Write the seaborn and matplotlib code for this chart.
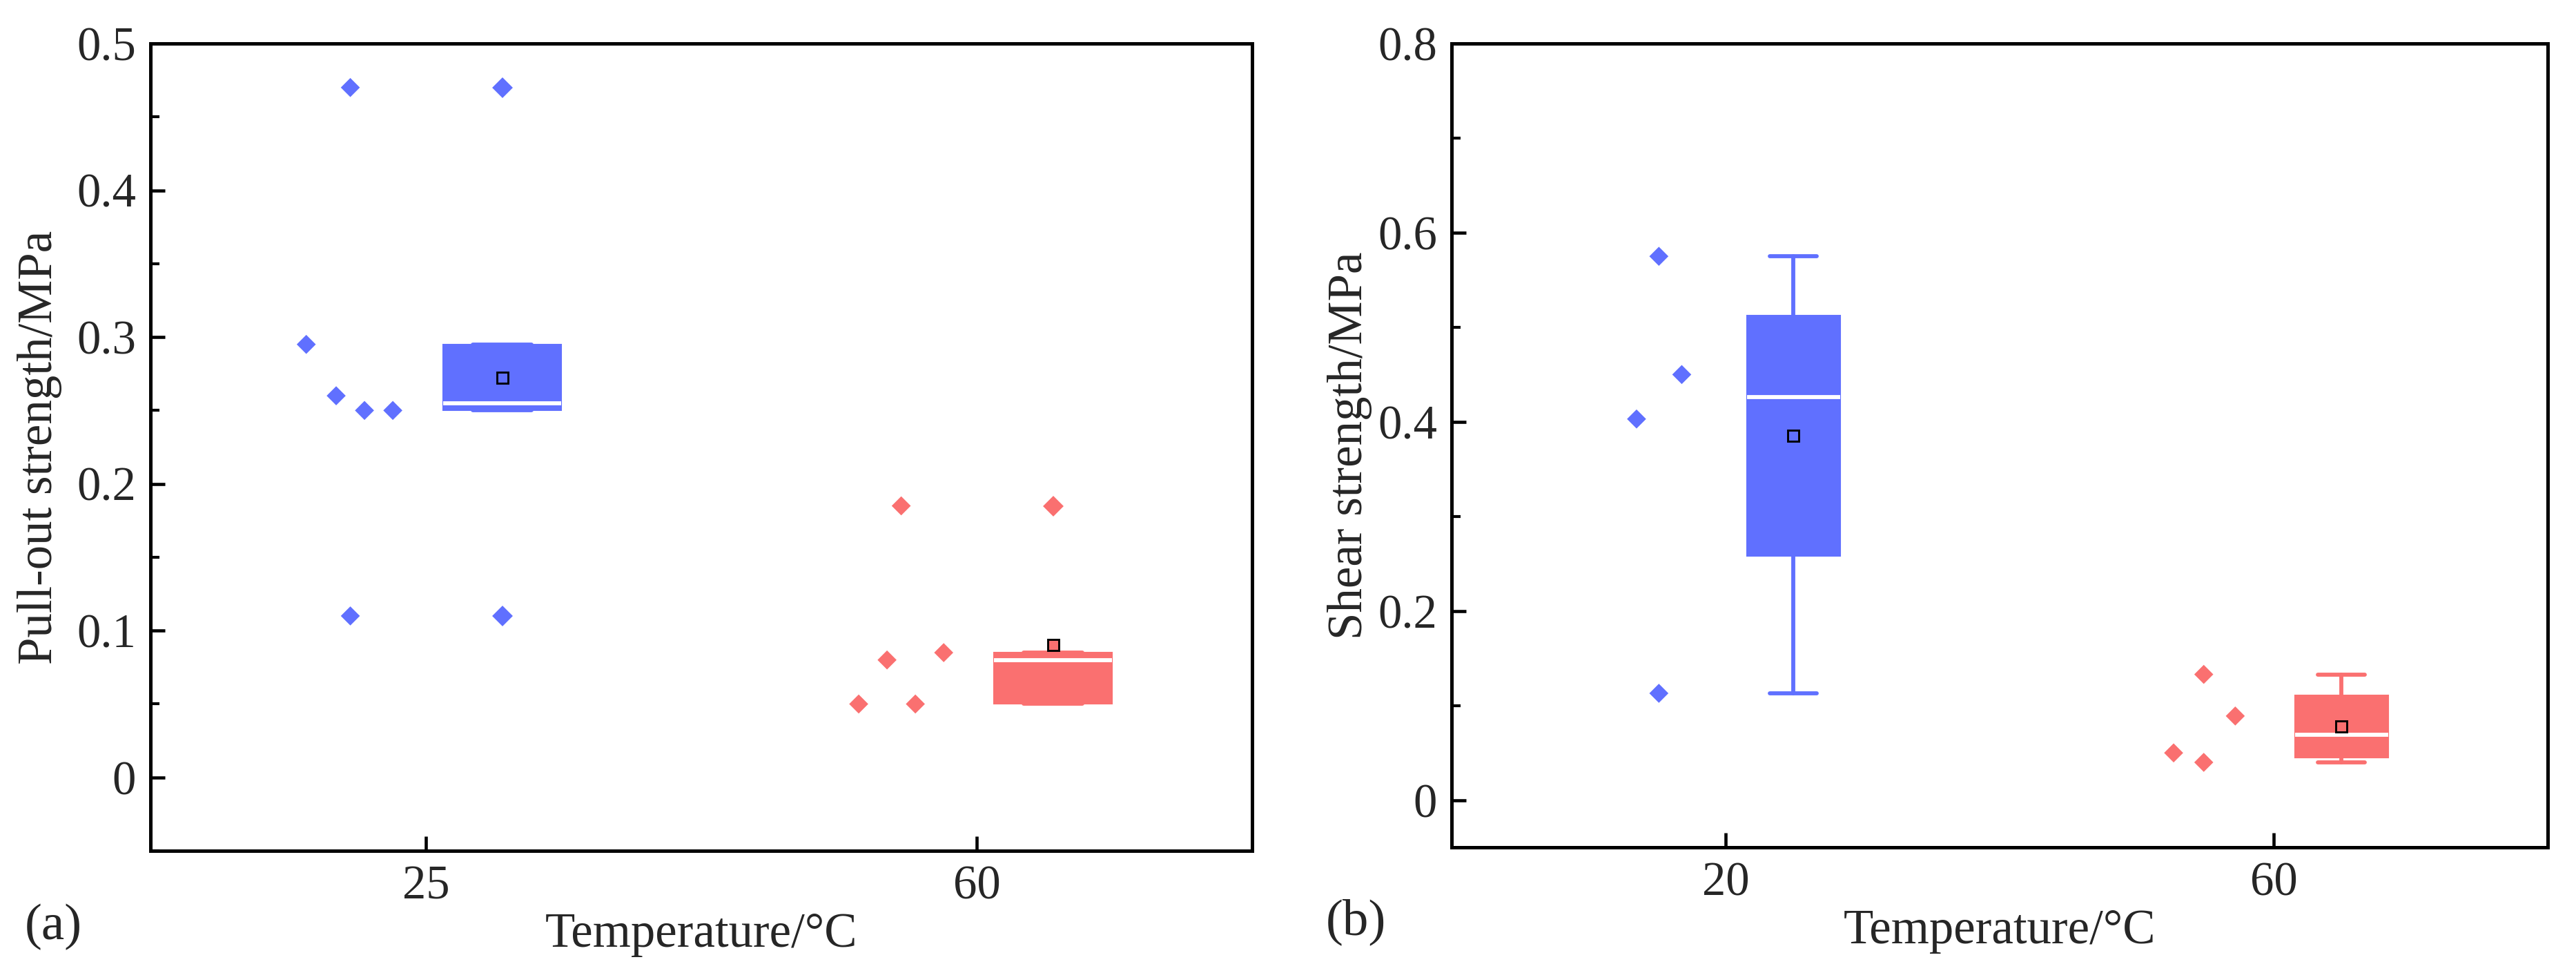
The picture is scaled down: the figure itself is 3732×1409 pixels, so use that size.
import numpy as np
import matplotlib
matplotlib.use("Agg")
import matplotlib.pyplot as plt
import seaborn as sns
import pandas as pd
from matplotlib.ticker import MultipleLocator, FuncFormatter

# ---------------- data ----------------
# Panel (a): pull-out strength (MPa)
pull_temps = [25, 60]
pull_25 = [0.47, 0.295, 0.26, 0.25, 0.25, 0.11]
pull_60 = [0.185, 0.08, 0.085, 0.05, 0.05]

# Panel (b): shear strength (MPa)
shear_temps = [20, 60]
shear_20 = [0.575, 0.45, 0.403, 0.113]
shear_60 = [0.133, 0.089, 0.05, 0.04]

# ---------------- layout / style ----------------
colors = ["#6070FF", "#FA7070"]
# horizontal jitter of the raw-data points (temperature units, relative to the tick)
pull_offsets = [[-4.8, -7.6, -5.7, -3.9, -2.1, -4.8], [-4.8, -5.7, -2.1, -7.5, -3.9]]
shear_offsets = [[-4.87, -3.2, -6.5, -4.87], [-5.1, -2.8, -7.3, -5.1]]

sns.set_theme(style="white")
plt.rcParams["font.family"] = ["Liberation Serif", "DejaVu Serif"]
plt.rcParams["mathtext.fontset"] = "stix"


def tukey_stats(values):
    v = np.sort(np.asarray(values, float))
    n = len(v)
    half = (n + 1) // 2
    q1 = np.median(v[:half])
    q3 = np.median(v[n - half:])
    iqr = q3 - q1
    lo, hi = q1 - 1.5 * iqr, q3 + 1.5 * iqr
    inside = v[(v >= lo) & (v <= hi)]
    return dict(med=np.median(v), q1=q1, q3=q3,
                whislo=inside.min(), whishi=inside.max(),
                fliers=v[(v < lo) | (v > hi)], mean=v.mean())


def draw_panel(ax, temps, groups, offsets, box_off, box_w, xlim, ylim,
               ymajor, yminor, ylabel, ylabelpad):
    # raw data points (seaborn)
    rows = []
    for t, vals, offs in zip(temps, groups, offsets):
        for v, o in zip(vals, offs):
            rows.append({"x": t + o, "y": v, "T": str(t)})
    df = pd.DataFrame(rows)
    sns.scatterplot(data=df, x="x", y="y", hue="T",
                    palette=dict(zip([str(t) for t in temps], colors)),
                    marker="D", s=22, linewidth=0, legend=False, ax=ax, zorder=3)

    # box plots with Tukey hinges
    for t, vals, c in zip(temps, groups, colors):
        st = tukey_stats(vals)
        ax.bxp([st], positions=[t + box_off], widths=[box_w], capwidths=[box_w / 2],
               patch_artist=True, showmeans=True, showfliers=True, manage_ticks=False,
               boxprops=dict(facecolor=c, edgecolor=c, linewidth=0.5),
               medianprops=dict(color="white", linewidth=1.4),
               whiskerprops=dict(color=c, linewidth=1.4),
               capprops=dict(color=c, linewidth=1.4),
               flierprops=dict(marker="D", markerfacecolor=c, markeredgecolor=c,
                               markersize=4),
               meanprops=dict(marker="s", markerfacecolor=c, markeredgecolor="black",
                              markersize=3.8, markeredgewidth=0.7))

    ax.set_xlim(*xlim)
    ax.set_ylim(*ylim)
    ax.set_xticks(temps)
    ax.set_xticklabels([str(t) for t in temps])
    ax.yaxis.set_major_locator(MultipleLocator(ymajor))
    ax.yaxis.set_minor_locator(MultipleLocator(yminor))
    ax.yaxis.set_major_formatter(FuncFormatter(lambda v, p: "0" if abs(v) < 1e-9 else f"{v:.1f}"))
    ax.tick_params(axis="both", which="major", direction="in", length=5, width=1.1,
                   labelsize=16.5, color="black", pad=5)
    ax.tick_params(axis="y", which="minor", direction="in", length=3, width=1.0, color="black")
    ax.tick_params(left=True, bottom=True, top=False, right=False)
    ax.tick_params(axis="y", which="minor", left=True)
    for s in ax.spines.values():
        s.set_color("black")
        s.set_linewidth(1.2)
    ax.set_xlabel("Temperature/°C", fontsize=17, labelpad=1)
    ax.set_ylabel(ylabel, fontsize=17, labelpad=ylabelpad)
    ax.grid(False)


fig = plt.figure(figsize=(12.44, 4.6967), dpi=300)
ax1 = fig.add_axes([0.0584, 0.1256, 0.4277, 0.8297])
ax2 = fig.add_axes([0.5635, 0.1290, 0.4255, 0.8263])

draw_panel(ax1, pull_temps, [pull_25, pull_60], pull_offsets, 4.85, 7.5,
           (7.5, 77.5), (-0.05, 0.5), 0.1, 0.05, "Pull-out strength/MPa", 5)
draw_panel(ax2, shear_temps, [shear_20, shear_60], shear_offsets, 4.95, 6.8,
           (0, 80), (-0.05, 0.8), 0.2, 0.1, "Shear strength/MPa", 2)

fig.text(0.0096, 0.0476, "(a)", fontsize=18, va="center", ha="left")
fig.text(0.5147, 0.0525, "(b)", fontsize=18, va="center", ha="left")

fig.savefig("out.png", dpi=300, facecolor="white")
